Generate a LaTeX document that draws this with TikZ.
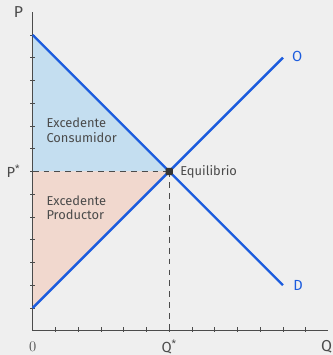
\documentclass[tikz,border=0pt]{standalone}
\usepackage{fontspec}
\newfontfamily\labelfont{Fira Sans}
\definecolor{fondo}{RGB}{239,239,239}
\definecolor{azul}{RGB}{28,92,222}
\definecolor{azulclaro}{RGB}{196,222,240}
\definecolor{rosa}{RGB}{241,216,206}
\definecolor{gris}{RGB}{75,75,75}
\begin{document}
\begin{tikzpicture}[x=0.6825cm, y=0.6825cm, line width=0.6pt,
  curva/.style={azul, line width=2pt},
  guia/.style={gris, dash pattern=on 5pt off 4.3pt, line width=1pt},
  eje/.style={gris, line width=1.1pt},
  etiqueta/.style={font=\labelfont\fontsize{11}{12.5}\selectfont, text=gris, align=left},
  rotulo/.style={font=\labelfont\fontsize{12.5}{14}\selectfont, text=gris}]
  % fondo y caja
  \fill[fondo] (-1.437,-1.068) rectangle (13.2,14.536);
  \useasboundingbox (-1.437,-1.068) rectangle (13.2,14.536);
  % puntos clave
  \coordinate (dtop) at (0,13);
  \coordinate (sbot) at (0,1);
  \coordinate (eq) at (6,7);
  \coordinate (pstar) at (0,7);
  \coordinate (qstar) at (6,0);
  \coordinate (dend) at (11,2);
  \coordinate (send) at (11,12);
  % excedentes
  \fill[azulclaro] (dtop) -- (eq) -- (pstar) -- cycle;
  \fill[rosa] (pstar) -- (eq) -- (sbot) -- cycle;
  \node[etiqueta, anchor=west] (exc) at (0.42,8.8) {Excedente\\Consumidor};
  \node[etiqueta, anchor=west] (exp) at (0.42,5.4) {Excedente\\Productor};
  % guias
  \draw[guia] (pstar) -- (eq);
  \draw[guia] (eq) -- (qstar);
  % ejes
  \draw[eje] (0,14) -- (0,0) -- (13,0);
  \foreach \i in {1,...,12} \draw[gris, line width=0.7pt] (\i,-0.05) -- (\i,0.16);
  \foreach \j in {1,...,13} \draw[gris, line width=0.7pt] (-0.1,\j) -- (0.1,\j);
  % curvas
  \draw[curva] (dtop) -- (dend);
  \draw[curva] (sbot) -- (send);
  \fill[gris!70!black, rounded corners=1pt] (5.84,6.84) rectangle (6.16,7.16);
  % rotulos
  \node[rotulo, font=\labelfont\fontsize{13.5}{15}\selectfont] (ejep) at (-0.63,14) {P};
  \node[rotulo, font=\labelfont\fontsize{13.5}{15}\selectfont] (ejeq) at (12.92,-0.72) {Q};
  \node[gris, font=\fontsize{12.5}{14}\selectfont] (cero) at (0,-0.72) {0};
  \node[rotulo] (lq) at (6,-0.72) {Q\textsuperscript{*}};
  \node[rotulo] (lp) at (-0.85,7) {P\textsuperscript{*}};
  \node[etiqueta, anchor=west] (leq) at (6.3,7) {Equilibrio};
  \node[rotulo, text=azul] (lo) at (11.63,12.04) {O};
  \node[rotulo, text=azul] (ld) at (11.67,2.0) {D};
\end{tikzpicture}
\end{document}
